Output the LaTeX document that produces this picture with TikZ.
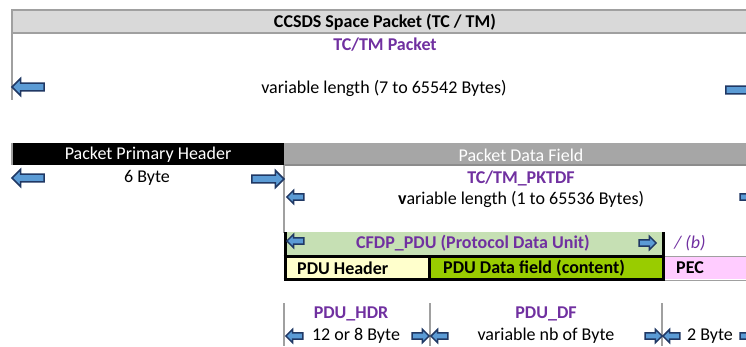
\documentclass[tikz,border=0pt]{standalone}
\usepackage{fontspec}
\setmainfont{Carlito}
\usetikzlibrary{shapes.arrows}
\definecolor{purp}{HTML}{7030A0}
\definecolor{linegray}{HTML}{A0A0A0}
\definecolor{hdrgray}{HTML}{D9D9D9}
\definecolor{dfgray}{HTML}{A6A6A6}
\definecolor{dfedge}{HTML}{8C8C8C}
\definecolor{pdugreen}{HTML}{C6E0B4}
\definecolor{hdryellow}{HTML}{FFFFCC}
\definecolor{datagreen}{HTML}{99CC00}
\definecolor{pecpink}{HTML}{FFCCFF}
\definecolor{arrline}{HTML}{203864}
\definecolor{arrfill}{HTML}{5B9BD5}
\tikzset{
  txt/.style={inner sep=0pt, font=\fontsize{18}{20}\selectfont},
  btxt/.style={txt, font=\fontsize{18}{20}\selectfont\bfseries},
  ptxt/.style={btxt, text=purp},
  barrow/.style={single arrow, draw=arrline, fill=arrfill, line width=1.5pt,
    single arrow head extend=4.6pt, single arrow head indent=0pt,
    minimum width=0pt, minimum height=32pt, inner xsep=0pt, inner ysep=3.2pt},
  sarrow/.style={barrow, minimum height=17pt, inner ysep=2.4pt,
    single arrow head extend=3.5pt},
  pleft/.style={shape border rotate=180},
  gline/.style={draw=linegray, line width=2pt},
  kline/.style={draw=black, line width=3pt},
}
\begin{document}
\begin{tikzpicture}[x=1pt,y=-1pt]
\useasboundingbox (0,0) rectangle (746,346);
\clip (0,0) rectangle (746,346);

% ---- space packet header row
\fill[hdrgray] (12,10) rectangle (746,33);
\draw[gline] (746,10) -- (12,10) -- (12,100);
\draw[gline] (12,33) -- (746,33);
\node[btxt] (title) at (385,22) {CCSDS Space Packet (TC / TM)};
\node[ptxt] (pkt) at (385,45) {TC/TM Packet};
\node[txt] (pktlen) at (384,88) {variable length (7 to 65542 Bytes)};
\node[barrow, pleft] (pktL) at (30,87) {};
\node[barrow] (pktR) at (740,90) {};

% ---- primary header / data field
\fill[black] (12,143) rectangle (284,165);
\fill[dfgray] (284,143) rectangle (746,165);
\draw[draw=dfedge, line width=1.5pt] (284,165) -- (746,165);
\draw[draw=linegray, line width=1.5pt] (12,143) -- (12,165);
\draw[gline] (284,165) -- (284,233);
\node[txt, text=white] (pph) at (148,155) {Packet Primary Header};
\node[txt, text=white] (pdf) at (521,155) {Packet Data Field};
\node[txt] (six) at (147,178) {6 Byte};
\node[barrow, pleft] (sixL) at (30,178) {};
\node[barrow] (sixR) at (266,179) {};
\node[ptxt] (pktdf) at (521,178) {TC/TM\_PKTDF};
\node[txt] (dflen) at (521,199) {\textbf{v}ariable length (1 to 65536 Bytes)};
\node[sarrow, pleft] (dfL) at (297,197) {};
\node[sarrow] (dfR) at (747,197) {};

% ---- CFDP PDU
\fill[pdugreen] (285,232) rectangle (662,256);
\fill[hdryellow] (285,256) rectangle (429,279);
\fill[datagreen] (429,256) rectangle (662,279);
\fill[pecpink] (663,256) rectangle (746,279);
\draw[draw=linegray, line width=1pt] (663,256) -- (746,256) (663,280) -- (746,280);
\draw[kline] (285,232) -- (285,280.5) (663,232) -- (663,280.5)
  (283.5,256) -- (664.5,256) (283.5,279) -- (664.5,279) (429,256) -- (429,279);
\node[ptxt] (pdu) at (473,243) {CFDP\_PDU (Protocol Data Unit)};
\node[sarrow, pleft] (pduL) at (297,241) {};
\node[sarrow] (pduR) at (646,243) {};
\node[txt, text=purp, font=\fontsize{18}{20}\selectfont\itshape] (b) at (690,243) {/ (b)};
\node[btxt, anchor=west] (hdr) at (297,268) {PDU Header};
\node[btxt, anchor=west] (data) at (443,268) {PDU Data field (content)};
\node[btxt, anchor=west] (pec) at (676,268) {PEC};

% ---- field sizes
\draw[gline] (284,303) -- (284,346) (430,303) -- (430,346) (662,303) -- (662,346);
\node[ptxt] (hdrname) at (351,314) {PDU\_HDR};
\node[txt] (hdrlen) at (356,336) {12 or 8 Byte};
\node[ptxt] (dfname) at (546,314) {PDU\_DF};
\node[txt] (dflen2) at (546,336) {variable nb of Byte};
\node[txt] (peclen) at (710,336) {2 Byte};
\node[sarrow, pleft] (hdrL) at (296,336) {};
\node[sarrow] (hdrR) at (419,336) {};
\node[sarrow, pleft] (dfL2) at (441,336) {};
\node[sarrow] (dfR2) at (652,336) {};
\node[sarrow, pleft] (pecL) at (673,336) {};
\node[sarrow] (pecR) at (747,336) {};
\end{tikzpicture}
\end{document}
